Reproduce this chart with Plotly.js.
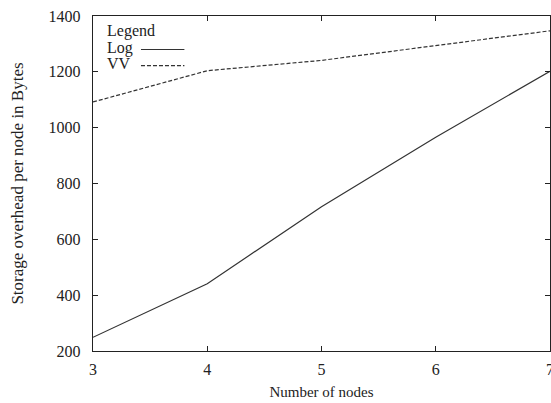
<!DOCTYPE html>
<html>
<head>
<meta charset="utf-8">
<script src="https://cdn.plot.ly/plotly-3.0.1.min.js"></script>
<style>html,body{margin:0;padding:0;background:#fff;}#chart{width:551px;height:403px;}</style>
</head>
<body>
<div id="chart"></div>
<script>
const nodes = [3, 4, 5, 6, 7];
const logOverhead = [249, 441, 717, 966, 1202];
const vvOverhead = [1092, 1204, 1241, 1295, 1347];
const xTicks = [3, 4, 5, 6, 7];
const yTicks = [200, 400, 600, 800, 1000, 1200, 1400];
const seriesNames = ['Log', 'VV'];

const fam = 'Liberation Serif, Times New Roman, serif';
const font = {family: fam, size: 16, color: '#222'};

const traces = [
  {x: nodes, y: logOverhead, name: seriesNames[0], mode: 'lines', line: {color: '#333', width: 1.2}, showlegend: false},
  {x: nodes, y: vvOverhead, name: seriesNames[1], mode: 'lines', line: {color: '#333', width: 1.2, dash: '4px,2px'}, showlegend: false}
];

const axisCommon = {
  showgrid: false, zeroline: false, showline: true, linecolor: '#222', linewidth: 1.2,
  mirror: 'allticks', ticks: 'inside', ticklen: 5, tickcolor: '#222', tickwidth: 1.2,
  tickfont: font, ticklabeloverflow: 'allow'
};

const layout = {
  width: 551, height: 403,
  margin: {l: 93, r: 1, t: 16, b: 52},
  paper_bgcolor: '#fff', plot_bgcolor: '#fff',
  font: font,
  xaxis: Object.assign({}, axisCommon, {
    range: [3, 7], tickvals: xTicks, ticktext: xTicks.map(String), ticklabelstandoff: 4,
    title: {text: 'Number of nodes', font: {family: fam, size: 15, color: '#222'}, standoff: 9}
  }),
  yaxis: Object.assign({}, axisCommon, {
    range: [200, 1400], tickvals: yTicks, ticktext: yTicks.map(String), ticklabelstandoff: 8,
    title: {text: 'Storage overhead per node in Bytes', font: {family: fam, size: 17, color: '#222'}, standoff: 20}
  }),
  annotations: [
    {xref: 'paper', yref: 'paper', x: 0.027, y: 0.955, xanchor: 'left', yanchor: 'middle', text: 'Legend', showarrow: false, font: font},
    {xref: 'paper', yref: 'paper', x: 0.027, y: 0.905, xanchor: 'left', yanchor: 'middle', text: seriesNames[0], showarrow: false, font: font},
    {xref: 'paper', yref: 'paper', x: 0.027, y: 0.857, xanchor: 'left', yanchor: 'middle', text: seriesNames[1], showarrow: false, font: font}
  ],
  shapes: [
    {type: 'line', xref: 'paper', yref: 'paper', x0: 0.105, x1: 0.2, y0: 0.9, y1: 0.9, line: {color: '#333', width: 1.2}},
    {type: 'line', xref: 'paper', yref: 'paper', x0: 0.105, x1: 0.2, y0: 0.852, y1: 0.852, line: {color: '#333', width: 1.2, dash: '4px,2px'}}
  ]
};

Plotly.newPlot('chart', traces, layout, {staticPlot: true, displayModeBar: false});
</script>
</body>
</html>
